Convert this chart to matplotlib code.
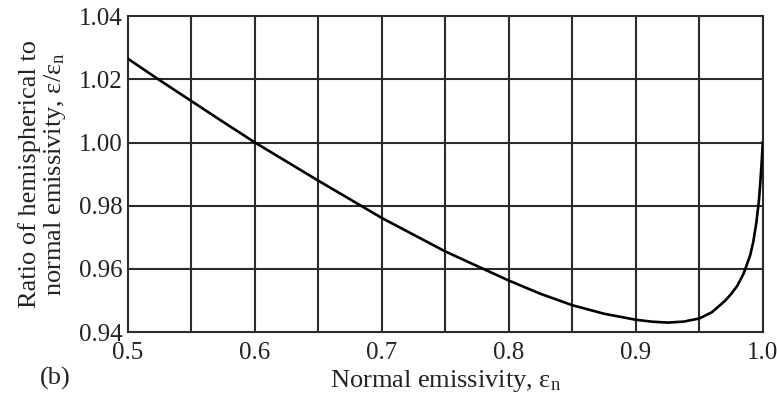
import numpy as np
import matplotlib
matplotlib.use("Agg")
import matplotlib.pyplot as plt

plt.rcParams['font.family'] = ['Liberation Serif', 'DejaVu Serif']
plt.rcParams['mathtext.fontset'] = 'custom'
plt.rcParams['mathtext.rm'] = 'Liberation Serif'
plt.rcParams['mathtext.it'] = 'Liberation Serif:italic'

# hemispherical / normal emissivity ratio vs normal emissivity
eps_n = [0.5, 0.525, 0.55, 0.575, 0.6, 0.65, 0.7, 0.75, 0.8, 0.825, 0.85,
         0.875, 0.9, 0.9125, 0.925, 0.9375, 0.95, 0.96, 0.97, 0.975, 0.98,
         0.985, 0.99, 0.9925, 0.995, 0.997, 0.998, 0.999, 1.0]
ratio = [1.0265, 1.0197, 1.0131, 1.0065, 1.000, 0.9879, 0.9761, 0.9655,
         0.9563, 0.9521, 0.9485, 0.9458, 0.9439, 0.9433, 0.9430, 0.9433,
         0.9443, 0.9463, 0.9498, 0.9520, 0.9547, 0.9586, 0.9642, 0.9685,
         0.9748, 0.9818, 0.9870, 0.9930, 1.000]

x_ticks = [0.5, 0.6, 0.7, 0.8, 0.9, 1.0]
x_tick_labels = ['0.5', '0.6', '0.7', '0.8', '0.9', '1.0']
y_ticks = [0.94, 0.96, 0.98, 1.00, 1.02, 1.04]
y_tick_labels = ['0.94', '0.96', '0.98', '1.00', '1.02', '1.04']

fig = plt.figure(figsize=(7.77, 4.03), dpi=100)
ax = fig.add_axes([0.1647, 0.176, 0.817, 0.784])

grid_color = '#2b2b2b'
text_color = '#222222'
for xv in np.arange(0.55, 1.0, 0.05):
    ax.axvline(xv, color=grid_color, lw=1.5, zorder=1)
for yv in y_ticks[1:-1]:
    ax.axhline(yv, color=grid_color, lw=1.5, zorder=1)

ax.plot(eps_n, ratio, color='black', lw=1.9, zorder=3)

ax.set_xlim(0.5, 1.0)
ax.set_ylim(0.94, 1.04)
ax.set_xticks(x_ticks)
ax.set_xticklabels(x_tick_labels)
ax.set_yticks(y_ticks)
ax.set_yticklabels(y_tick_labels)
ax.tick_params(length=0, labelsize=18, colors=text_color)
ax.tick_params(axis='x', pad=7)
ax.tick_params(axis='y', pad=4)
for s in ax.spines.values():
    s.set_color(grid_color)
    s.set_linewidth(1.5)

ax.set_xlabel(r'Normal emissivity, ε$_{\mathrm{n}}$', fontsize=19,
              color=text_color, labelpad=3)
ax.set_ylabel('Ratio of hemispherical to\n' + r'normal emissivity, ε/ε$_{\mathrm{n}}$',
              fontsize=19, color=text_color, linespacing=1.05, labelpad=8)
fig.text(0.051, 0.045, '(b)', fontsize=19, color=text_color)

fig.savefig('out.png', dpi=100)
